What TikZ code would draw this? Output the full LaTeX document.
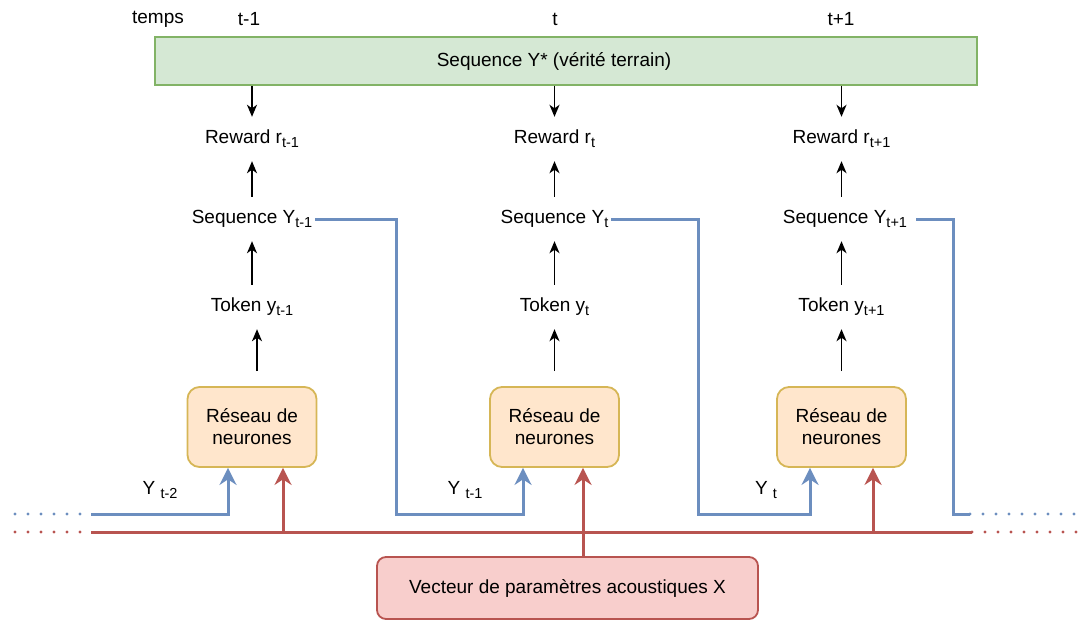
\documentclass[tikz,border=0pt]{standalone}
\usepackage{fontspec}
\setmainfont{Liberation Sans}
\usetikzlibrary{arrows.meta}
\definecolor{gfill}{HTML}{D5E8D4}
\definecolor{gdraw}{HTML}{82B366}
\definecolor{ofill}{HTML}{FFE6CC}
\definecolor{odraw}{HTML}{D6B656}
\definecolor{rfill}{HTML}{F8CECC}
\definecolor{rdraw}{HTML}{B85450}
\definecolor{bdraw}{HTML}{6C8EBF}
\newcommand\lsub[1]{\raisebox{-4pt}{\fontsize{14.5}{14.5}\selectfont #1}}
\tikzset{
  txt/.style={font=\fontsize{19}{22}\selectfont, inner sep=3pt},
  lbl/.style={txt, minimum height=44pt},
  gbox/.style={draw=gdraw, fill=gfill, line width=1.8pt, minimum width=822pt, minimum height=48pt},
  obox/.style={txt, draw=odraw, fill=ofill, line width=1.8pt, rounded corners=12pt, minimum width=129pt, minimum height=80pt, align=center},
  rbox/.style={txt, draw=rdraw, fill=rfill, line width=1.8pt, rounded corners=9pt, minimum width=381pt, minimum height=62pt},
  blk/.style={line width=1.8pt, -{Stealth[length=12pt,width=10pt,inset=3.5pt]}},
  bluel/.style={draw=bdraw, line width=3pt},
  bluea/.style={bluel, -{Stealth[length=17pt,width=17pt,inset=5.5pt]}},
  redl/.style={draw=rdraw, line width=3pt},
  reda/.style={redl, -{Stealth[length=17pt,width=17pt,inset=5.5pt]}},
  dots/.style={line width=3.2pt, line cap=round, dash pattern=on 0pt off 13pt},
}
\begin{document}
\begin{tikzpicture}[x=1pt,y=-1pt]
\useasboundingbox (0,0) rectangle (1089,621);
% top
\node[txt] (temps) at (158,19) {temps};
\node[txt] (tm1) at (249,19) {t-1};
\node[txt] (tt) at (555,19) {t};
\node[txt] (tp1) at (841,19) {t+1};
\node[gbox] (gt) at (566,61) {};
\node[txt] (gtext) at (554,61) {Sequence Y* (vérité terrain)};
% columns
\node[lbl] (rew1) at (252,139) {Reward r\lsub{t-1}};
\node[lbl] (rew2) at (554.5,139) {Reward r\lsub{t}};
\node[lbl] (rew3) at (841.5,139) {Reward r\lsub{t+1}};
\node[lbl] (seq1) at (252,219) {Sequence Y\lsub{t-1}};
\node[lbl] (seq2) at (554.5,219) {Sequence Y\lsub{t}};
\node[lbl] (seq3) at (845,219) {Sequence Y\lsub{t+1}};
\node[lbl] (tok1) at (252,307) {Token y\lsub{t-1}};
\node[lbl] (tok2) at (554.5,307) {Token y\lsub{t}};
\node[lbl] (tok3) at (841.5,307) {Token y\lsub{t+1}};
\node[obox] (box1) at (252,427) {Réseau de\\neurones};
\node[obox] (box2) at (554.5,427) {Réseau de\\neurones};
\node[obox] (box3) at (841.5,427) {Réseau de\\neurones};
\node[rbox] (vec) at (567.5,588) {Vecteur de paramètres acoustiques X};
% labels Y
\node[txt] (y1) at (160,490) {Y \lsub{t-2}};
\node[txt] (y2) at (465,490) {Y \lsub{t-1}};
\node[txt] (y3) at (766,490) {Y \lsub{t}};
% black arrows
\foreach \i in {1,2}{
  \draw[blk] (gt.south -| rew\i) -- (rew\i);
  \draw[blk] (seq\i) -- (rew\i);
  \draw[blk] (tok\i) -- (seq\i);
}
\draw[blk] (gt.south -| rew3) -- (rew3);
\draw[blk] (seq3.north -| rew3) -- (rew3);
\draw[blk] (tok3) -- (seq3.south -| tok3);
\draw[blk, shorten <=15pt] ([xshift=5pt]box1.north) -- ([xshift=5pt]tok1.south);
\draw[blk, shorten <=15pt] (box2.north) -- (tok2);
\draw[blk, shorten <=15pt] (box3.north) -- (tok3);
% coordinates
\coordinate (b1in) at ([xshift=-24pt]box1.south);
\coordinate (b2in) at ([xshift=-31.5pt]box2.south);
\coordinate (b3in) at ([xshift=-31.5pt]box3.south);
\coordinate (r1in) at ([xshift=31pt]box1.south);
\coordinate (r2in) at ([xshift=28.5pt]box2.south);
\coordinate (r3in) at ([xshift=31.5pt]box3.south);
\coordinate (blo) at (15,514);
\coordinate (bl) at (91,514);
\coordinate (k1) at (396,514);
\coordinate (k2) at (698,514);
\coordinate (k3) at (953,514);
\coordinate (br) at (970,514);
\coordinate (bro) at (1085,514);
\coordinate (rlo) at (15,532);
\coordinate (rl) at (91,532);
\coordinate (rr) at (972,532);
\coordinate (rro) at (1085,532);
% red
\draw[redl, dots] (rlo) -- (rl);
\draw[redl, dots] (rr) -- (rro);
\draw[redl] (rl) -- (rr);
\draw[reda] (rl -| r1in) -- (r1in);
\draw[reda] (rl -| r3in) -- (r3in);
\draw[reda] (vec.north -| r2in) -- (r2in);
% blue
\draw[bluel, dots] (blo) -- (bl);
\draw[bluel, dots] (br) -- (bro);
\draw[bluea] (bl) -| (b1in);
\draw[bluea] (seq1.east) -| (k1) -| (b2in);
\draw[bluea] (seq2.east) -| (k2) -| (b3in);
\draw[bluel] ([xshift=6pt]seq3.east) -| (k3) -- (br);
\end{tikzpicture}
\end{document}
